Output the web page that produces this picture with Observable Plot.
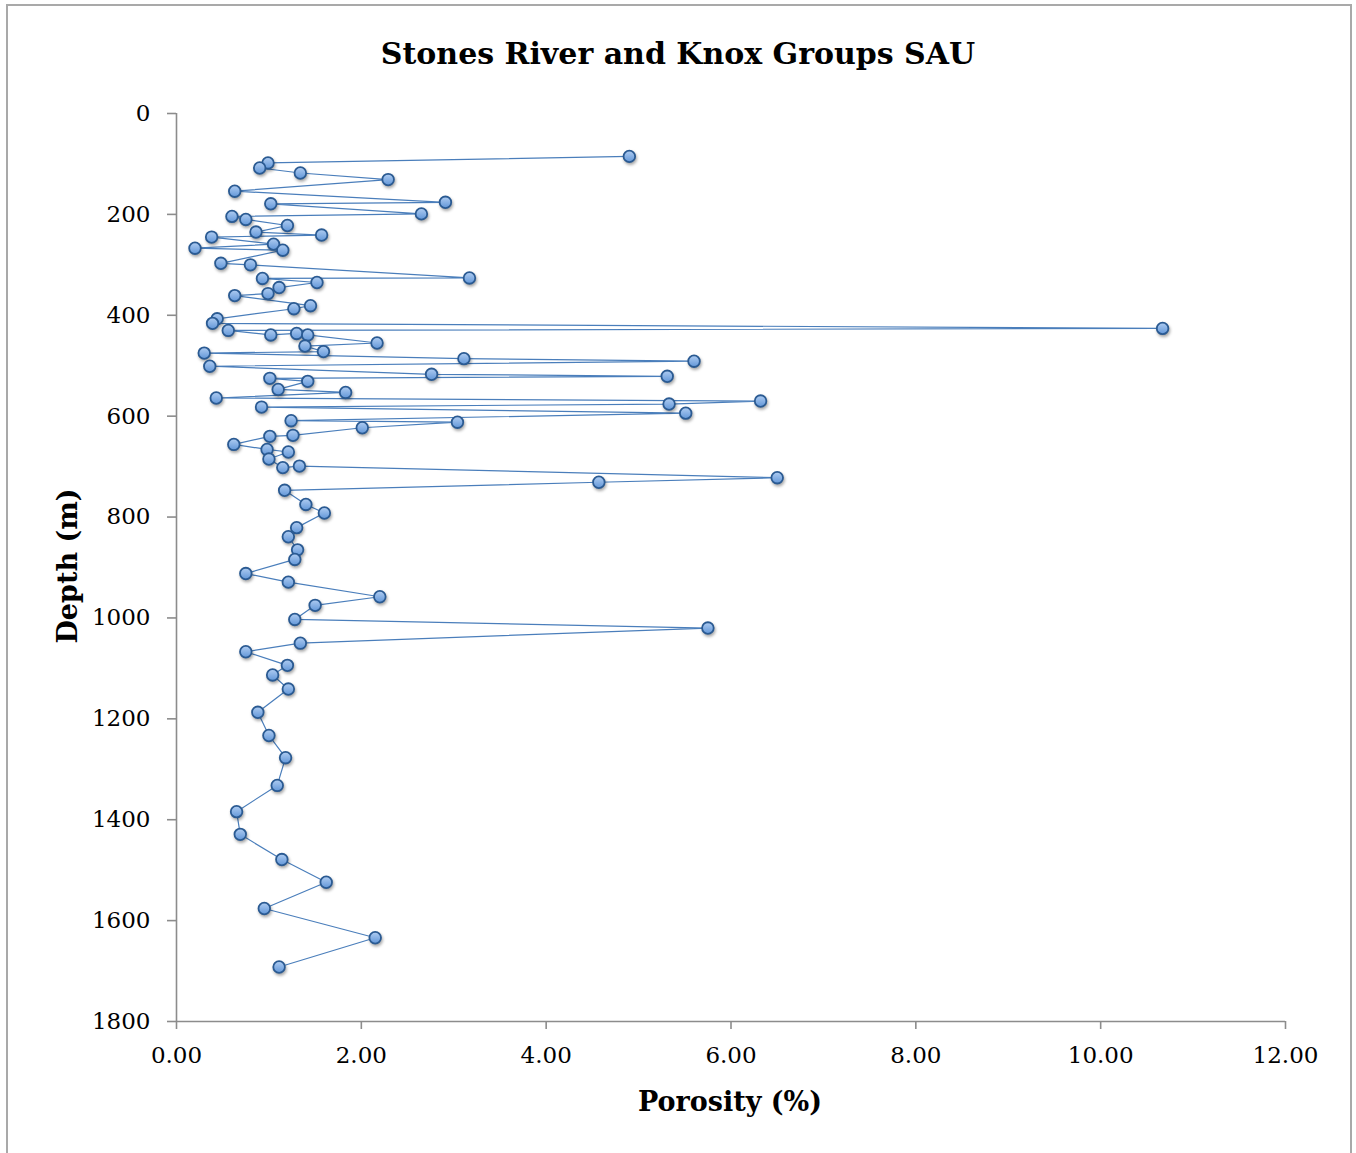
<!DOCTYPE html>
<html>
<head>
<meta charset="utf-8">
<script src="https://cdn.jsdelivr.net/npm/d3@7"></script>
<script src="https://cdn.jsdelivr.net/npm/@observablehq/plot@0.6"></script>
<style>
  html, body { margin: 0; padding: 0; background: #fff; overflow: hidden; }
  #chart { position: relative; width: 1356px; height: 1153px; font-family: "DejaVu Serif", serif; color: #000; }
  #frame { position: absolute; left: 6px; top: 4px; width: 1342px; height: 1170px; border: 2px solid #a9a9a9; }
  #plot { position: absolute; left: 0; top: 0; }
  .title { position: absolute; left: 0; width: 1356px; top: 39px; text-align: center; font-weight: bold; font-size: 30px; line-height: 30px; white-space: nowrap; }
  .xlabel { position: absolute; left: 730px; top: 1101px; transform: translate(-50%, -50%); font-weight: bold; font-size: 27px; line-height: 27px; white-space: nowrap; }
  .ylabel { position: absolute; left: 67px; top: 566px; transform: translate(-50%, -50%) rotate(-90deg); font-weight: bold; font-size: 27px; line-height: 27px; white-space: nowrap; }
</style>
</head>
<body>
<div id="chart">
  <div id="frame"></div>
  <div class="title">Stones River and Knox Groups SAU</div>
  <div id="plot"></div>
  <div class="xlabel">Porosity (%)</div>
  <div class="ylabel">Depth (m)</div>
</div>
<script>
// Sample depths (m), in logging order
const depth = [
  85, 98, 108, 118, 131, 154, 176, 179, 199, 204,
  210, 222, 235, 241, 245, 259, 267, 271, 297, 300,
  326, 327, 335, 345, 357, 361, 381, 387, 407, 416,
  426, 430, 439, 436, 439, 455, 461, 472, 475, 486,
  491, 501, 517, 521, 525, 531, 547, 553, 564, 570,
  576, 582, 594, 609, 612, 623, 638, 640, 656, 666,
  671, 685, 702, 699, 722, 731, 747, 775, 792, 821,
  839, 865, 884, 912, 929, 958, 975, 1003, 1020, 1050,
  1067, 1094, 1113, 1141, 1187, 1233, 1277, 1332, 1384, 1429,
  1479, 1524, 1576, 1634, 1692
];

// Measured porosity (%) at each depth
const porosity = [
  4.90, 0.99, 0.90, 1.34, 2.29, 0.63, 2.91, 1.02, 2.65, 0.60,
  0.75, 1.20, 0.86, 1.57, 0.38, 1.05, 0.20, 1.15, 0.48, 0.80,
  3.17, 0.93, 1.52, 1.11, 0.99, 0.63, 1.45, 1.27, 0.44, 0.39,
  10.67, 0.56, 1.02, 1.30, 1.42, 2.17, 1.39, 1.59, 0.30, 3.11,
  5.60, 0.36, 2.76, 5.31, 1.01, 1.42, 1.10, 1.83, 0.43, 6.32,
  5.33, 0.92, 5.51, 1.24, 3.04, 2.01, 1.26, 1.01, 0.62, 0.98,
  1.21, 1.00, 1.15, 1.33, 6.50, 4.57, 1.17, 1.40, 1.60, 1.30,
  1.21, 1.31, 1.28, 0.75, 1.21, 2.20, 1.50, 1.28, 5.75, 1.34,
  0.75, 1.20, 1.04, 1.21, 0.88, 1.00, 1.18, 1.09, 0.65, 0.69,
  1.14, 1.62, 0.95, 2.15, 1.11
];

// Axis ticks
const xTicks = [0, 2, 4, 6, 8, 10, 12];
const yTicks = [0, 200, 400, 600, 800, 1000, 1200, 1400, 1600, 1800];

const samples = depth.map((d, i) => ({depth: d, porosity: porosity[i]}));

const axisGray = "#8c8c8c";

// Gradient fill for the markers
const markerDefs = () => {
  const defs = d3.create("svg:defs");
  const g = defs.append("linearGradient")
    .attr("id", "markerFill")
    .attr("x1", 0).attr("y1", 0).attr("x2", 0).attr("y2", 1);
  g.append("stop").attr("offset", "0%").attr("stop-color", "#b0cdf2");
  g.append("stop").attr("offset", "100%").attr("stop-color", "#6196d8");
  return defs.node();
};

const chart = Plot.plot({
  width: 1356,
  height: 1153,
  marginLeft: 176,
  marginRight: 71,
  marginTop: 113,
  marginBottom: 132,
  style: {fontFamily: "'DejaVu Serif', serif", fontSize: "23px", color: "#000", background: "transparent", overflow: "visible"},
  x: {domain: [0, 12]},
  y: {domain: [0, 1800], reverse: true},
  marks: [
    markerDefs,
    Plot.ruleX([0], {stroke: axisGray, strokeWidth: 1.6}),
    Plot.ruleY([1800], {stroke: axisGray, strokeWidth: 1.6}),
    Plot.axisX({ticks: xTicks, tickFormat: d3.format(".2f"), tickSize: 8, tickPadding: 17, stroke: axisGray, strokeWidth: 1.6, fill: "#000", label: null}),
    Plot.axisY({ticks: yTicks, tickFormat: d => String(d), tickSize: 9, tickPadding: 17, stroke: axisGray, strokeWidth: 1.6, fill: "#000", label: null}),
    Plot.line(samples, {x: "porosity", y: "depth", stroke: "#4a7ebb", strokeWidth: 1.2}),
    Plot.dot(samples, {x: "porosity", y: "depth", r: 5.8, fill: "url(#markerFill)", stroke: "#2a5a92", strokeWidth: 1.8})
  ]
});

// Soft drop shadow under the markers
d3.select(chart).selectAll('g[aria-label="dot"]')
  .style("filter", "drop-shadow(1.5px 2.5px 1.5px rgba(0,0,0,0.35))");

document.getElementById("plot").append(chart);
</script>
</body>
</html>
